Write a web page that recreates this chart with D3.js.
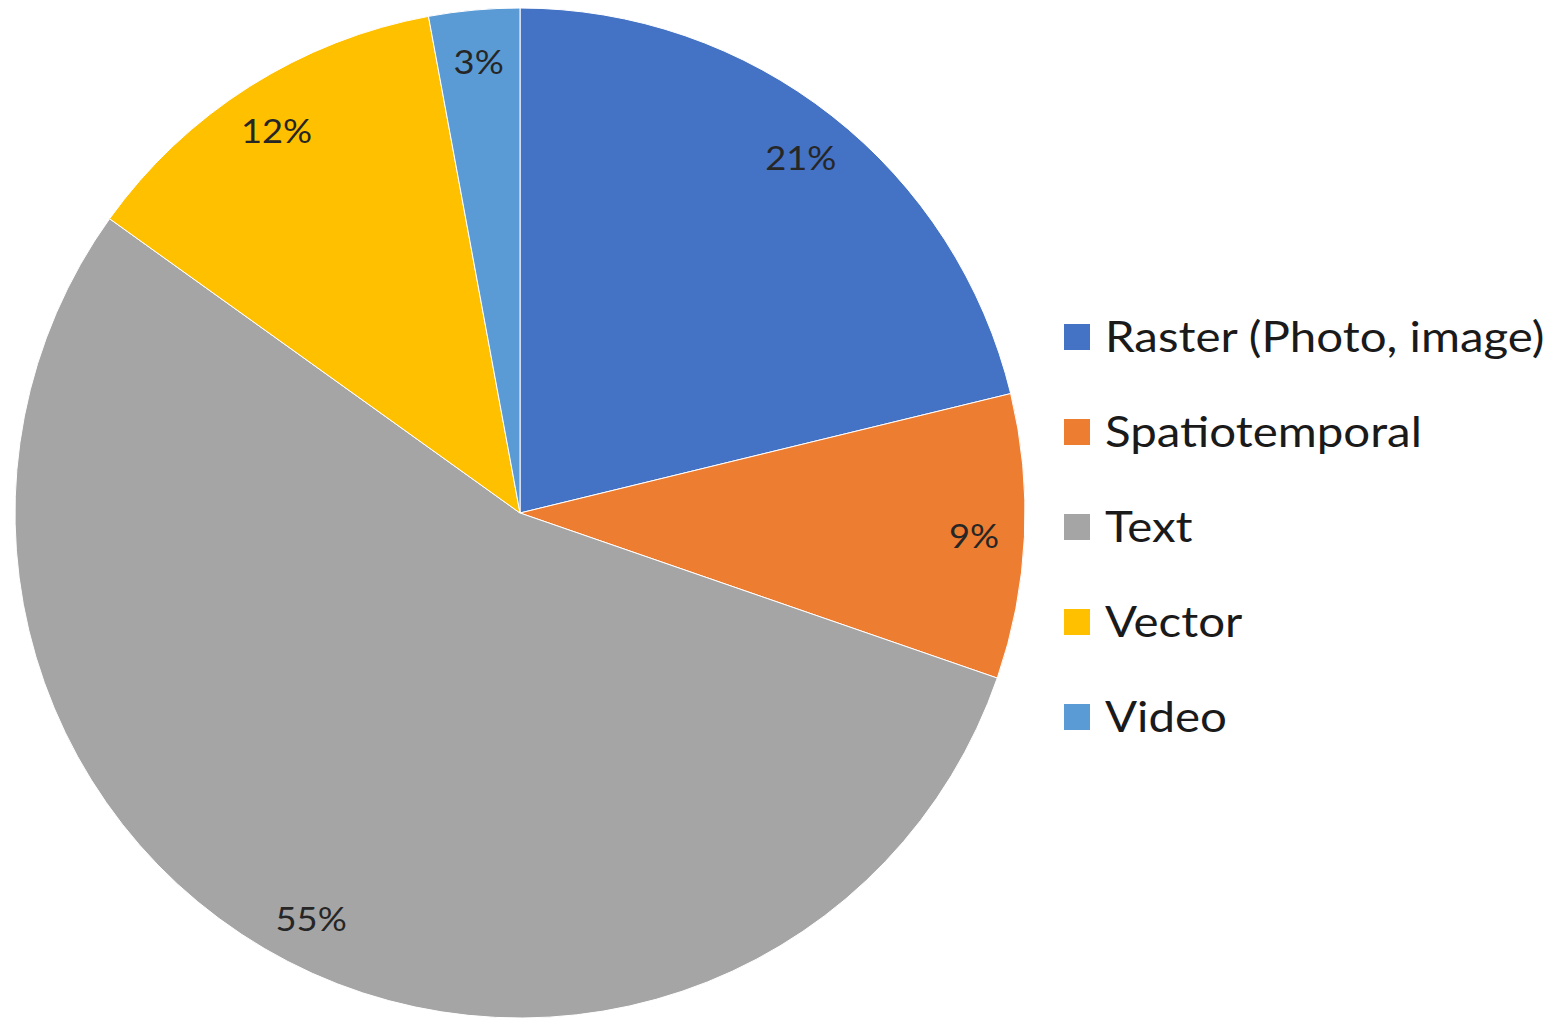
<!DOCTYPE html>
<html>
<head>
<meta charset="utf-8">
<script src="https://cdn.jsdelivr.net/npm/d3@7"></script>
<style>
  html, body { margin: 0; padding: 0; background: #fff; }
  svg { display: block; }
</style>
</head>
<body>
<svg id="chart" width="1563" height="1021"></svg>
<script>
const categories = ["Raster (Photo, image)", "Spatiotemporal", "Text", "Vector", "Video"];
const values = [21.2, 9.1, 54.6, 12.2, 2.9];
const colors = ["#4472C4", "#ED7D31", "#A5A5A5", "#FFC000", "#5B9BD5"];

const svg = d3.select("#chart");
const cx = 520, cy = 513, r = 505;
const total = d3.sum(values);
const data = categories.map((c, i) => ({ name: c, value: values[i], color: colors[i] }));

const pie = d3.pie().value(d => d.value).sort(null);
const arcs = pie(data);
const arc = d3.arc().innerRadius(0).outerRadius(r);
const labelArc = d3.arc().innerRadius(r * 0.9).outerRadius(r * 0.9);

const g = svg.append("g").attr("transform", `translate(${cx},${cy})`);
g.selectAll("path").data(arcs).join("path")
  .attr("d", arc)
  .attr("fill", d => d.data.color)
  .attr("stroke", "#fff")
  .attr("stroke-width", 1);

const fmt = d3.format(".0%");
g.selectAll("text.lbl").data(arcs).join("text")
  .attr("class", "lbl")
  .attr("transform", d => { const [x, y] = labelArc.centroid(d); return `translate(${x},${y}) scale(1.1,1)`; })
  .attr("text-anchor", "middle")
  .attr("dy", "0.42em")
  .attr("font-family", "Lato, 'Open Sans', sans-serif")
  .attr("font-size", 33)
  .attr("fill", "#262626")
  .text(d => fmt(d.data.value / total));

const legend = svg.append("g").attr("transform", "translate(1064,337)");
const rowH = 95;
const items = legend.selectAll("g").data(data).join("g")
  .attr("transform", (d, i) => `translate(0,${i * rowH})`);
items.append("rect")
  .attr("x", 0).attr("y", -13).attr("width", 26).attr("height", 26)
  .attr("fill", d => d.color);
items.append("text")
  .attr("transform", "translate(41,0) scale(1.13,1)")
  .attr("dy", "0.35em")
  .attr("font-family", "Lato, 'Open Sans', sans-serif")
  .attr("font-size", 42)
  .attr("fill", "#1a1a1a")
  .text(d => d.name);
</script>
</body>
</html>
